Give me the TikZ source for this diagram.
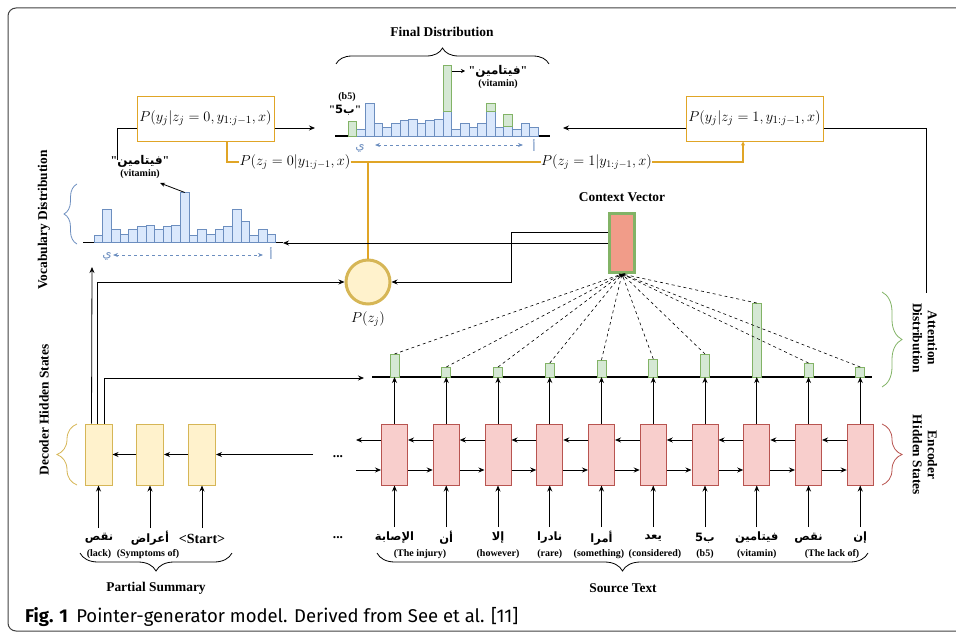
\documentclass[tikz,border=0pt]{standalone}
\usepackage{fontspec}
\setmainfont{Liberation Serif}
\newfontfamily\arabicfont[Script=Arabic]{DejaVu Sans}
\newfontfamily\capfont{Fira Sans}
\TeXXeTstate=1
\usetikzlibrary{arrows.meta,decorations.pathreplacing,calc}
\definecolor{bluefill}{HTML}{DAE8FC}
\definecolor{bluedraw}{HTML}{6C8EBF}
\definecolor{greenfill}{HTML}{D5E8D4}
\definecolor{greendraw}{HTML}{82B366}
\definecolor{redfill}{HTML}{F8CECC}
\definecolor{reddraw}{HTML}{B85450}
\definecolor{yelfill}{HTML}{FFF2CC}
\definecolor{yeldraw}{HTML}{D6B656}
\definecolor{orl}{HTML}{E0A526}
\definecolor{salmon}{HTML}{F19C89}
\newcommand{\qq}{\textquotedbl}
\begin{document}
\begin{tikzpicture}[x=1pt,y=-1pt,
  arr/.style={-{Stealth[length=6pt,width=5pt]}, line width=0.8pt},
  lbl/.style={font=\fontsize{13.4}{15}\selectfont\bfseries, inner sep=0pt},
  sm/.style={font=\fontsize{10}{12}\selectfont\bfseries, inner sep=0pt},
  ar/.style={font=\fontsize{11.5}{13}\selectfont\arabicfont\bfseries, inner sep=0pt},
  qar/.style={font=\fontsize{12}{13}\selectfont\bfseries, inner sep=0pt},
  mth/.style={font=\fontsize{14.5}{16}\selectfont, inner sep=0pt},
  probbox/.style={draw=orl, line width=1pt, fill=white, minimum width=137pt, minimum height=45pt, inner sep=0pt},
  encbox/.style={draw=reddraw, fill=redfill, line width=1pt, minimum width=26pt, minimum height=61pt, inner sep=0pt},
  decbox/.style={draw=yeldraw, fill=yelfill, line width=1pt, minimum width=27pt, minimum height=61pt, inner sep=0pt},
  bluebar/.style={draw=bluedraw, fill=bluefill, line width=0.8pt},
  greenbar/.style={draw=greendraw, fill=greenfill, line width=0.8pt},
  orline/.style={draw=orl, line width=1.2pt},
  brc/.style={decorate, decoration={brace, amplitude=#1}, line width=0.8pt},
  bluelab/.style={text=bluedraw, font=\fontsize{12}{13}\selectfont\arabicfont, inner sep=0pt},
  bluedash/.style={bluedraw, dashed, line width=0.8pt, {Stealth[length=5pt,width=4pt]}-{Stealth[length=5pt,width=4pt]}}
]
\useasboundingbox (0,0) rectangle (956,634);
% frame
\draw[black!75, line width=1pt, rounded corners=8pt] (975,631) -- (8,631) -- (8,8) -- (975,8);

% ---------- final distribution ----------
\draw[line width=1.5pt] (335,136) -- (550,136);
\foreach \h [count=\i] in {0,6.7,32.3,12.3,8.3,12.3,15.3,17,12.3,15.3,17,24.3,6.7,12.3,8.3,12.3,24.3,8.3,10,6.7,12.3,8.3}{
  \draw[bluebar] ({348+(\i-1)*8.65},136) rectangle ++(8.65,-\h);
}
\draw[greenbar] (348,136) rectangle ++(8.65,-14.7);
\draw[greenbar] ({348+11*8.65},{136-24.3}) rectangle ++(8.65,-46.4);
\draw[greenbar] ({348+16*8.65},{136-24.3}) rectangle ++(8.65,-8);
\draw[greenbar] ({348+18*8.65},{136-10}) rectangle ++(8.65,-11.3);
\draw[brc=16pt] (336,64) -- (549,64);
\node[lbl] (fdl) at (442,32) {Final Distribution};
\node[qar] (fvit) at (498,71) {\qq{\arabicfont\beginR فيتامين\endR}\qq};
\node[sm] (fvit2) at (498,84) {(vitamin)};
\coordinate (ftop) at (452,71);
\coordinate (ftip) at (465,71);
\draw[arr, -{Stealth[length=4pt,width=4pt]}] (ftop) -- (ftip);
\node[sm] (fb5a) at (347,97) {(b5)};
\node[qar, font=\fontsize{11.5}{13}\selectfont\bfseries] (fb5) at (345,110) {\qq{\arabicfont\beginR ب5\endR}\qq};
\node[bluelab] (fya) at (360,148) {ي};
\node[bluelab] (falef) at (534,146) {أ};
\draw[bluedash] (375,145) -- (523,145);

% ---------- vocabulary distribution ----------
\draw[line width=1.5pt] (83,242.5) -- (283,242.5);
\foreach \h [count=\i] in {7,33,13,8.3,13,15.7,17,13,15.7,17,49.7,7,13,8.3,13,15.7,33,21,7,13,8.3}{
  \draw[bluebar] ({94+(\i-1)*8.65},242.5) rectangle ++(8.65,-\h);
}
\draw[brc=13pt, bluedraw] (77,244) -- (77,184);
\node[lbl, rotate=90] (vdl) at (44,220) {Vocabulary Distribution};
\node[qar] (vvit) at (140,161) {\qq{\arabicfont\beginR فيتامين\endR}\qq};
\node[sm] (vvit2) at (140,174) {(vitamin)};
\coordinate (vtop) at (184.8,192.5);
\coordinate (vtip) at (160,183);
\draw[arr, -{Stealth[length=5pt,width=4pt]}] (vtop) -- (vtip);
\node[bluelab] (vya) at (107,256) {ي};
\node[bluelab] (valef) at (271,254) {أ};
\draw[bluedash] (113,255) -- (263,255);

% ---------- probability boxes ----------
\node[probbox] (pb0) at (205.5,118.5) {\fontsize{15}{17}\selectfont$P(y_j|z_j=0,y_{1:j-1},x)$};
\node[probbox] (pb1) at (754.5,118.5) {\fontsize{15}{17}\selectfont$P(y_j|z_j=1,y_{1:j-1},x)$};
\node[mth] (pl0) at (295,162) {$P(z_j=0|y_{1:j-1},x)$};
\node[mth] (pl1) at (596.5,162) {$P(z_j=1|y_{1:j-1},x)$};
\coordinate (fleft) at (315,128);
\coordinate (fright) at (563,128);
\coordinate (vlink) at (117,160);
\coordinate (alink) at (926,293);
\draw[arr] ([yshift=-9.5pt]pb0.east) -- (fleft);
\draw[arr] ([yshift=-9.5pt]pb1.west) -- (fright);
\draw[line width=0.8pt] ([yshift=-9.5pt]pb0.west) -| (vlink);
\draw[line width=0.8pt] ([yshift=-9.5pt]pb1.east) -| (alink);

% ---------- switch circle ----------
\node[circle, draw=yeldraw, fill=yelfill, line width=3pt, minimum size=44pt, inner sep=0pt] (pz) at (368,282) {};
\node[mth] (pzl) at (368,319) {$P(z_j)$};
\draw[orline] ([xshift=21.5pt]pb0.south) |- (pl0.west);
\draw[orline] (pl0.east) -- (pl1.west);
\draw[orline, -{Stealth[length=4pt,width=4pt]}] (pl1.east) -| ([xshift=-11.5pt]pb1.south);
\draw[orline] (pz.north) -- (pz.north |- pl0.east);

% ---------- context vector ----------
\node[draw=greendraw, fill=salmon, line width=3pt, minimum width=25pt, minimum height=59pt, inner sep=0pt] (cv) at (622,243) {};
\node[lbl] (cvl) at (622,197) {Context Vector};
\coordinate (vend) at (283,243);
\draw[arr] (cv.west) -- (vend);
\draw[arr] ([yshift=11pt]cv.west) -- ++(-97,0) |- (pz.east);

% ---------- attention ----------
\draw[line width=1.5pt] (372,377) -- (872,377);
\coordinate (attbase) at (372,377);
\foreach \t [count=\k] in {354,367,367,363,360,359,354,303,363,367}{
  \pgfmathsetmacro{\xx}{394.5+51.75*(\k-1)}
  \draw[greenbar] (\xx-4.5,377) rectangle (\xx+4.5,\t);
  \coordinate (a\k) at (\xx,\t);
  \draw[dashed, line width=0.6pt, -{Stealth[length=3pt,width=3pt]}] (a\k) -- (cv.south);
  \node[encbox] (e\k) at (\xx,454.5) {};
  \draw[arr] (e\k.north) -- (e\k.north |- attbase);
}
\draw[brc=20pt, greendraw] (882,292) -- (882,387);
\node[lbl, rotate=-90, align=center] (adl) at (925,338) {Attention\\Distribution};

% ---------- encoder ----------
\foreach \k [evaluate=\k as \kn using int(\k+1)] in {1,...,9}{
  \draw[arr] ([yshift=14.5pt]e\kn.west) -- ([yshift=14.5pt]e\k.east);
  \draw[arr] ([yshift=-15.5pt]e\k.east) -- ([yshift=-15.5pt]e\kn.west);
}
\coordinate (encl) at (356,440);
\coordinate (encr) at (356,470);
\draw[arr] ([yshift=14.5pt]e1.west) -- (encl);
\draw[arr] (encr) -- ([yshift=-15.5pt]e1.west);
\draw[brc=20pt, reddraw] (882,424) -- (882,485);
\node[lbl, rotate=-90, align=center] (ehl) at (925,455) {Encoder\\Hidden States};
\coordinate (wtop) at (0,527);
\foreach \k in {1,...,10}{
  \draw[arr] (e\k.south |- wtop) -- (e\k.south);
}
\node[ar] (sw1) at (394.5,538) {\beginR الإصابة\endR};
\node[ar] (sw2) at (446.25,538) {\beginR أن\endR};
\node[ar] (sw3) at (498,538) {\beginR إلا\endR};
\node[ar] (sw4) at (549.75,538) {\beginR نادرا\endR};
\node[ar] (sw5) at (601.5,538) {\beginR أمرا\endR};
\node[ar] (sw6) at (653.25,538) {\beginR يعد\endR};
\node[ar] (sw7) at (705,538) {\beginR ب5\endR};
\node[ar] (sw8) at (756.75,538) {\beginR فيتامين\endR};
\node[ar] (sw9) at (808.5,538) {\beginR نقص\endR};
\node[ar] (sw10) at (860.25,538) {\beginR إن\endR};
\node[sm] (se1) at (420,554) {(The injury)};
\node[sm] (se3) at (498,554) {(however)};
\node[sm] (se4) at (549.75,554) {(rare)};
\node[sm] (se5) at (599,554) {(something)};
\node[sm] (se6) at (655,554) {(considered)};
\node[sm] (se7) at (705,554) {(b5)};
\node[sm] (se8) at (756.75,554) {(vitamin)};
\node[sm] (se9) at (832,554) {(The lack of)};
\draw[brc=18pt] (868,553) -- (377,553);
\node[lbl] (stl) at (623,588) {Source Text};
\node[lbl] (dots1) at (338,457) {...};
\node[lbl] (dots2) at (338,538) {...};

% ---------- decoder ----------
\node[decbox] (d1) at (98.5,454.5) {};
\node[decbox] (d2) at (150,454.5) {};
\node[decbox] (d3) at (202,454.5) {};
\coordinate (decin) at (313,454.5);
\draw[arr] (decin) -- (d3.east);
\draw[arr] (d3.west) -- (d2.east);
\draw[arr] (d2.west) -- (d1.east);
\draw[brc=20pt, yeldraw] (77,485) -- (77,424);
\node[lbl, rotate=90] (dhl) at (44,410) {Decoder Hidden States};
\node[ar] (dw1) at (99,538) {\beginR نقص\endR};
\node[ar] (dw2) at (150,538) {\beginR أعراض\endR};
\node[lbl, font=\fontsize{14}{15}\selectfont\bfseries] (dw3) at (202,539) {\textless Start\textgreater};
\coordinate (dtop) at (0,528);
\draw[arr] (d1.south |- dtop) -- (d1.south);
\draw[arr] (d2.south |- dtop) -- (d2.south);
\draw[arr] (d3.south |- dtop) -- (d3.south);
\node[sm] (de1) at (99,554) {(lack)};
\node[sm] (de2) at (148,554) {(Symptoms of)};
\draw[brc=18pt] (232,553) -- (80,553);
\node[lbl] (psl) at (156,588) {Partial Summary};
\coordinate (vin) at (92,267);
\coordinate (atin2) at (364,378);
\draw[arr] ([xshift=7pt]d1.north west) -- (vin);
\draw[arr] ([xshift=13pt]d1.north west) |- (pz.west);
\draw[arr] ([xshift=20pt]d1.north west) |- (atin2);

% ---------- caption ----------
\node[anchor=base west, inner sep=0pt, font=\capfont\fontsize{18.5}{21}\selectfont] (cap) at (25,622) {\textbf{Fig. 1}\hspace{0.45em}Pointer-generator model. Derived from See et al. [11]};
\end{tikzpicture}
\end{document}
